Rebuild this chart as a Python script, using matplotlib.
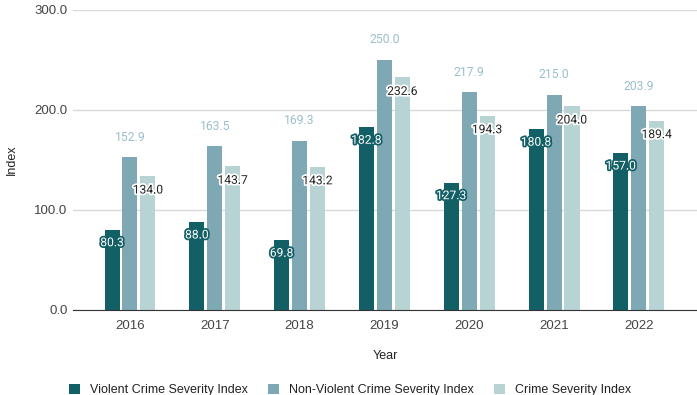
import numpy as np
import matplotlib.pyplot as plt
import matplotlib.patheffects as pe
from matplotlib.patches import Patch

years = ["2016", "2017", "2018", "2019", "2020", "2021", "2022"]
violent = [80.3, 88.0, 69.8, 182.8, 127.3, 180.8, 157.0]
non_violent = [152.9, 163.5, 169.3, 250.0, 217.9, 215.0, 203.9]
crime_severity = [134.0, 143.7, 143.2, 232.6, 194.3, 204.0, 189.4]

series_names = ["Violent Crime Severity Index",
                "Non-Violent Crime Severity Index",
                "Crime Severity Index"]
colors = ["#135f66", "#7ea8b4", "#b8d3d4"]

plt.rcParams['font.family'] = ['Liberation Sans', 'DejaVu Sans']

fig = plt.figure(figsize=(6.97, 3.95), dpi=100)
ax = fig.add_axes([73 / 697, 85 / 395, 624 / 697, 300 / 395])

x = np.arange(len(years))
w = 0.177
step = 0.212

ax.bar(x - step, violent, w, color=colors[0], zorder=3)
ax.bar(x, non_violent, w, color=colors[1], zorder=3)
ax.bar(x + step, crime_severity, w, color=colors[2], zorder=3)

lab_font = dict(family=['Roboto', 'DejaVu Sans'], fontsize=8.7, ha='center', va='center', zorder=5)
for xi, v in zip(x - step, violent):
    ax.text(xi, v - 13, f"{v:.1f}", color='white',
            path_effects=[pe.withStroke(linewidth=2.5, foreground=colors[0])], **lab_font)
for xi, v in zip(x, non_violent):
    ax.text(xi, v + 20, f"{v:.1f}", color='#9bbfcc', **lab_font)
for xi, v in zip(x + step, crime_severity):
    ax.text(xi, v - 14, f"{v:.1f}", color='#222222',
            path_effects=[pe.withStroke(linewidth=2.5, foreground='white')], **lab_font)

ax.set_ylim(0, 300)
ax.set_xlim(-0.672, 6.686)
ax.set_yticks([0, 100, 200, 300])
ax.set_yticklabels(["0.0", "100.0", "200.0", "300.0"])
ax.set_xticks(x)
ax.set_xticklabels(years)
ax.tick_params(axis='both', length=0, labelsize=9.5, colors='#444444')
ax.tick_params(axis='y', pad=4)
ax.tick_params(axis='x', pad=7)
ax.grid(axis='y', color='#d9d9d9', linewidth=1, zorder=0)
for s in ['top', 'right', 'left']:
    ax.spines[s].set_visible(False)
ax.spines['bottom'].set_color('#333333')
ax.spines['bottom'].set_zorder(4)

ax.set_ylabel("Index", fontsize=9, color='#222222', labelpad=12)
ax.set_xlabel("Year", fontsize=9, color='#222222', labelpad=13)

handles = [Patch(facecolor=c) for c in colors]
fig.legend(handles, series_names, loc='center', bbox_to_anchor=(350 / 697, 5 / 395),
           ncol=3, frameon=False, fontsize=9, handlelength=0.9, handleheight=0.9,
           columnspacing=1.6, handletextpad=0.8, labelcolor='#222222')

fig.savefig("out.png", dpi=100)
